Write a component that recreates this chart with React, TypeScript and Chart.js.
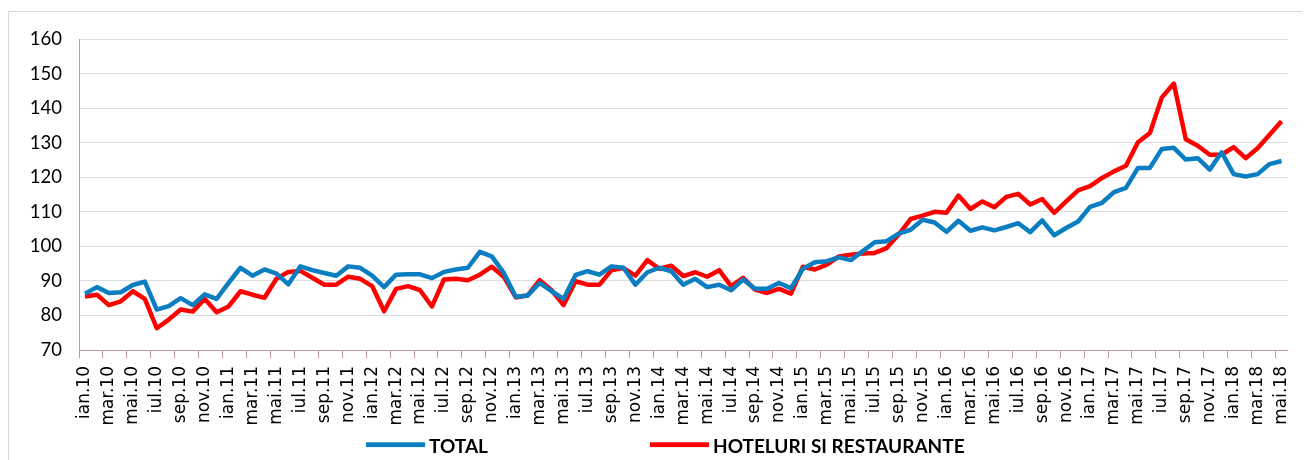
import React, { useEffect, useRef } from "react";
import { Chart, registerables } from "chart.js";

Chart.register(...registerables);

const MONTHS = ["ian", "feb", "mar", "apr", "mai", "iun", "iul", "aug", "sep", "oct", "nov", "dec"];
const YEARS = ["10", "11", "12", "13", "14", "15", "16", "17", "18"];
const CATEGORIES: string[] = [];
YEARS.forEach((y) => MONTHS.forEach((m) => CATEGORIES.push(`${m}.${y}`)));
CATEGORIES.length = 101; // ian.10 ... mai.18

const TOTAL = [
  86.3, 88.2, 86.5, 86.7, 88.8, 89.8, 81.7, 82.7, 85.0, 83.0, 86.1, 84.8,
  89.4, 93.8, 91.5, 93.3, 92.1, 89.0, 94.2, 93.1, 92.3, 91.5, 94.2, 93.8,
  91.5, 88.2, 91.8, 91.9, 91.9, 90.8, 92.6, 93.3, 93.8, 98.4, 97.1, 92.3,
  85.4, 85.8, 89.4, 87.0, 84.8, 91.7, 92.8, 91.8, 94.2, 93.8, 88.9, 92.5,
  93.8, 92.8, 88.9, 90.6, 88.2, 88.9, 87.3, 90.4, 87.7, 87.7, 89.4, 87.9,
  93.5, 95.4, 95.7, 96.8, 96.0, 98.6, 101.2, 101.5, 103.7, 104.8, 107.7, 106.9,
  104.2, 107.4, 104.5, 105.5, 104.6, 105.6, 106.7, 104.1, 107.5, 103.2, 105.3, 107.2,
  111.4, 112.6, 115.7, 116.9, 122.7, 122.7, 128.2, 128.5, 125.1, 125.5, 122.2, 127.2,
  120.9, 120.2, 120.9, 123.8, 124.7,
];

const HOTELURI = [
  85.5, 86.0, 83.0, 84.1, 87.0, 84.8, 76.3, 78.8, 81.7, 81.1, 84.8, 80.9,
  82.6, 87.0, 86.0, 85.1, 90.6, 92.6, 92.9, 90.9, 88.9, 88.9, 91.2, 90.6,
  88.5, 81.2, 87.7, 88.5, 87.3, 82.6, 90.4, 90.6, 90.2, 91.8, 94.1, 91.2,
  85.2, 85.8, 90.2, 87.3, 83.0, 89.9, 88.9, 88.9, 93.1, 93.7, 91.5, 96.0,
  93.5, 94.4, 91.4, 92.5, 91.2, 93.1, 88.5, 90.9, 87.5, 86.5, 87.7, 86.3,
  94.1, 93.3, 94.7, 97.1, 97.6, 97.9, 98.1, 99.5, 103.4, 107.9, 108.9, 110.0,
  109.7, 114.7, 110.8, 113.0, 111.3, 114.3, 115.2, 112.1, 113.7, 109.7, 113.0, 116.2,
  117.4, 119.8, 121.7, 123.3, 130.1, 132.8, 143.1, 147.1, 131.0, 129.1, 126.5, 126.5,
  128.7, 125.5, 128.4, 132.3, 136.2,
];

const SERIES_LABELS = ["TOTAL", "HOTELURI SI RESTAURANTE"];
const Y_MIN = 70;
const Y_MAX = 160;
const Y_STEP = 10;

const BLUE = "#0b7ec1";
const RED = "#ff0000";
const AXIS = "#bf9a9a";
const GRID = "#dcdcdc";

const framePlugin = {
  id: "frame",
  beforeDraw(chart: any) {
    const ctx = chart.ctx;
    ctx.save();
    ctx.strokeStyle = "#d9d9d9";
    ctx.lineWidth = 1;
    ctx.beginPath();
    ctx.moveTo(0.5, chart.height + 5);
    ctx.lineTo(0.5, 3.5);
    ctx.lineTo(chart.width + 5, 3.5);
    ctx.stroke();
    ctx.restore();
  },
};

const legendPlugin = {
  id: "bottomLegend",
  afterDraw(chart: any) {
    const ctx = chart.ctx;
    const starts = [358, 642];
    ctx.save();
    ctx.font = "bold 19px Lato";
    ctx.textBaseline = "alphabetic";
    ctx.textAlign = "left";
    chart.data.datasets.forEach((ds: any, i: number) => {
      const x = starts[i];
      ctx.fillStyle = ds.borderColor;
      ctx.fillRect(x, 434.3, 59, 4.8);
      ctx.fillStyle = "#000000";
      ctx.fillText(ds.label, x + 63, 445);
    });
    ctx.restore();
  },
};

export default function App() {
  const ref = useRef<HTMLCanvasElement | null>(null);

  useEffect(() => {
    if (!ref.current) return;
    const chart = new Chart(ref.current, {
      type: "line",
      data: {
        labels: CATEGORIES,
        datasets: [
          {
            label: SERIES_LABELS[0],
            data: TOTAL,
            borderColor: BLUE,
            backgroundColor: BLUE,
            borderWidth: 4.5,
            pointRadius: 0,
            tension: 0,
            borderJoinStyle: "round",
          },
          {
            label: SERIES_LABELS[1],
            data: HOTELURI,
            borderColor: RED,
            backgroundColor: RED,
            borderWidth: 4.5,
            pointRadius: 0,
            tension: 0,
            borderJoinStyle: "round",
          },
        ],
      },
      options: {
        responsive: false,
        animation: false,
        events: [],
        layout: { padding: { left: 0, right: 16, top: 31, bottom: 0 } },
        plugins: {
          legend: { display: false },
          tooltip: { enabled: false },
        },
        scales: {
          x: {
            type: "category",
            offset: true,
            grid: {
              offset: true,
              drawOnChartArea: false,
              drawTicks: true,
              tickLength: 8,
              tickColor: AXIS,
              tickWidth: (c: any) => (c.index % 2 === 0 ? 1 : 0),
            },
            border: { display: true, color: AXIS, width: 1 },
            ticks: {
              autoSkip: false,
              maxRotation: 90,
              minRotation: 90,
              padding: 8,
              color: "#000000",
              font: { family: "DejaVu Sans", size: 17 },
              callback: function (this: any, v: any, i: number) {
                return i % 2 === 0 ? this.getLabelForValue(v) : "";
              },
            },
            afterFit: (s: any) => {
              s.height = 110;
            },
          },
          y: {
            min: Y_MIN,
            max: Y_MAX,
            ticks: {
              stepSize: Y_STEP,
              padding: 17,
              color: "#000000",
              font: { family: "Lato", size: 18.5 },
            },
            grid: { color: GRID, lineWidth: 1, drawTicks: false },
            border: { display: true, color: AXIS, width: 1 },
            afterFit: (s: any) => {
              s.width = 71;
            },
          },
        },
      },
      plugins: [framePlugin, legendPlugin],
    });
    return () => chart.destroy();
  }, []);

  return (
    <div style={{ width: 1302, height: 452 }}>
      <canvas ref={ref} width={1302} height={452} style={{ display: "block" }} />
    </div>
  );
}
